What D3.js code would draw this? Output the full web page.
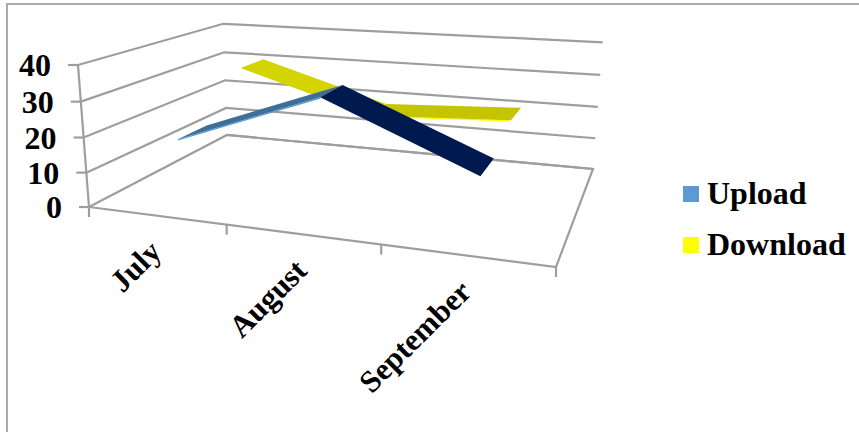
<!DOCTYPE html>
<html>
<head>
<meta charset="utf-8">
<script src="https://cdnjs.cloudflare.com/ajax/libs/d3/7.8.5/d3.min.js"></script>
<style>
  html, body { margin: 0; padding: 0; background: #fff; }
  svg { display: block; }
  text { font-family: "Liberation Serif", serif; font-weight: bold; fill: #000; }
</style>
</head>
<body>
<svg id="chart" width="859" height="432"></svg>
<script>
// Chart data
const months = ["July", "August", "September"];
const uploadValues = [18, 33, 16];
const downloadValues = [31, 19, 21];
const seriesNames = ["Upload", "Download"];
const legendColors = ["#5b9bd5", "#ffff00"];
const uploadFaces = ["#3f6f98", "#001a50"];
const downloadFaces = ["#d4d400", "#c4c400"];
const valueTicks = [0, 10, 20, 30, 40];

const W = 859, H = 432;
const svg = d3.select("#chart");

// Perspective camera for the box: u runs along the months, v into the
// depth of the chart, h up the value axis (all 0..1).
const FL = [89, 207], FR = [556, 267], BL = [227, 135], BR = [593, 169];
const TL = [78, 65], TBL = [223, 23.8];

function det3(a, b, c) {
  return a[0] * (b[1] * c[2] - b[2] * c[1])
       - a[1] * (b[0] * c[2] - b[2] * c[0])
       + a[2] * (b[0] * c[1] - b[1] * c[0]);
}
const hom = p => [p[0], p[1], 1];
// Solve wFR*FR + wBL*BL - wBR*BR = FL in homogeneous coordinates.
const colA = hom(FR), colB = hom(BL), colC = hom(BR).map(d => -d), rhs = hom(FL);
const rows = i => [colA[i], colB[i], colC[i]];
const D = det3(rows(0), rows(1), rows(2));
const solve = k => det3(...[0, 1, 2].map(i => { const r = rows(i); r[k] = rhs[i]; return r; })) / D;
const wFR = solve(0), wBL = solve(1);
const wTL = (TBL[1] * (wBL - 1) - wBL * BL[1] + FL[1]) / (TL[1] - TBL[1]);

const P0 = hom(FL);
const Pu = hom(FR).map((d, i) => d * wFR - P0[i]);
const Pv = hom(BL).map((d, i) => d * wBL - P0[i]);
const Ph = hom(TL).map((d, i) => d * wTL - P0[i]);

function project(u, v, h) {
  const X = [0, 1, 2].map(i => P0[i] + u * Pu[i] + v * Pv[i] + h * Ph[i]);
  return [X[0] / X[2], X[1] / X[2]];
}

const uScale = d3.scaleBand().domain(months).range([0, 1]);
const hScale = d3.scaleLinear().domain([0, 40]).range([0, 1]);
const uMid = m => uScale(m) + uScale.bandwidth() / 2;

const grid = "#9e9e9e";
const line = d3.line();

// Outer chart frame
svg.append("path")
  .attr("d", line([[7, H], [7, 4], [W, 4]]))
  .attr("fill", "none").attr("stroke", "#ababab").attr("stroke-width", 2);

// Gridlines on the side wall and back wall
const gridLayer = svg.append("g").attr("fill", "none").attr("stroke", grid).attr("stroke-width", 2.2);
valueTicks.forEach(t => {
  const h = hScale(t);
  gridLayer.append("path").attr("d", line([project(0, 0, h), project(0, 1, h), project(1, 1, h)]));
});
// Floor outline and vertical axis
gridLayer.append("path").attr("d", line([project(0, 1, 0), project(1, 1, 0), project(1, 0, 0), project(0, 0, 0)]));
gridLayer.append("path").attr("d", line([project(0, 0, 0), project(0, 0, 1)]));

// Value axis ticks and labels
valueTicks.forEach(t => {
  const [x, y] = project(0, 0, hScale(t));
  gridLayer.append("path").attr("d", line([[x - 10, y], [x, y]]));
  svg.append("text").attr("x", x - 27).attr("y", y + 11)
    .attr("text-anchor", "end").attr("font-size", 32).text(t);
});

// Month ticks along the front edge, on the band boundaries
[0, 1, 2, 3].forEach(i => {
  const [x, y] = project(i / 3, 0, 0);
  gridLayer.append("path").attr("d", line([[x, y], [x, y + 10]]));
});

// Slanted month labels
months.forEach(m => {
  const [x, y] = project(uMid(m), 0, 0);
  svg.append("text")
    .attr("transform", `translate(${x + 7},${y + 38}) rotate(-45)`)
    .attr("text-anchor", "end").attr("font-size", 31).text(m);
});

// One flat ribbon per series, each occupying its own slice of the depth axis.
// Rising segments also show a thin strip of their front side.
function ribbon(values, v0, v1, faces, edge) {
  const g = svg.append("g");
  const thick = 0.35 / 40;
  for (let i = 0; i < values.length - 1; i++) {
    const ua = uMid(months[i]), ub = uMid(months[i + 1]);
    const ha = hScale(values[i]), hb = hScale(values[i + 1]);
    if (hb > ha) {
      g.append("path").attr("fill", edge)
        .attr("d", line([project(ua, v0, ha), project(ub, v0, hb), project(ub, v0, hb - thick), project(ua, v0, ha - thick)]) + "Z");
    }
    g.append("path").attr("fill", faces[i])
      .attr("d", line([project(ua, v0, ha), project(ub, v0, hb), project(ub, v1, hb), project(ua, v1, ha)]) + "Z");
  }
}
ribbon(downloadValues, 0.64, 0.84, downloadFaces, legendColors[1]);
ribbon(uploadValues, 0.16, 0.36, uploadFaces, legendColors[0]);

// Legend
const legendY = d3.scalePoint().domain(seriesNames).range([186, 237]);
seriesNames.forEach((name, i) => {
  svg.append("rect").attr("x", 683).attr("y", legendY(name))
    .attr("width", 16).attr("height", 16).attr("fill", legendColors[i]);
  svg.append("text").attr("x", 707).attr("y", legendY(name) + 18)
    .attr("font-size", 32).text(name);
});
</script>
</body>
</html>
